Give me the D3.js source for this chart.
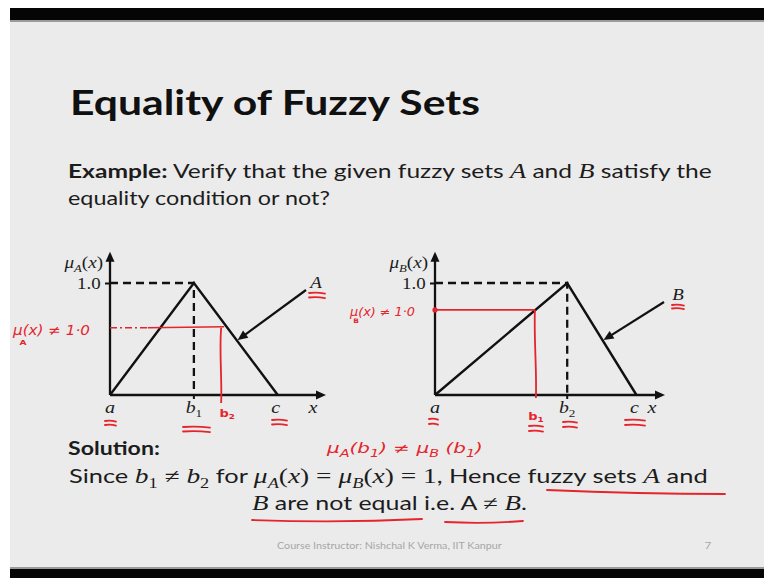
<!DOCTYPE html>
<html><head><meta charset="utf-8">
<script src="https://cdn.jsdelivr.net/npm/d3@7"></script>
<style>html,body{margin:0;padding:0;background:#fff;}svg{display:block}</style>
</head><body>
<svg id="slide" width="764" height="578"></svg>
<script>
// Triangular membership functions: breakpoints (abscissa units) and grades
const setAx = [0, 2, 4];
const setAmu = [0, 1, 0];
const setBx = [0, 3.15, 4.8];
const setBmu = [0, 1, 0];
const setALabels = ["a", "b1", "c"];
const setBLabels = ["a", "b2", "c"];
const yTickValues = [1.0];
const yTickLabels = ["1.0"];
// Extent of each abscissa arrow and of the ordinate arrow
const axisExtentA = 5.15;
const axisExtentB = 5.48;
const axisTop = 1.28;
// Red check points: [abscissa, grade] where the guide lines meet each set
const checkA = [2.65, 0.6];
const checkB = [2.38, 0.76];

const SANS = "Lato, 'Open Sans', sans-serif";
const SERIF = "'Liberation Serif', 'DejaVu Serif', serif";
const HAND = "'DejaVu Sans', sans-serif";
const INK = "#1c1c1c";
const RED = "#e5242b";
const SX = 1.18;   // the slide frame is wider than the original 4:3 page

const svg = d3.select("#slide");
const W = 764, H = 578;

// slide frame
svg.append("rect").attr("width", W).attr("height", H).attr("fill", "#fff");
svg.append("rect").attr("x", 10).attr("y", 8).attr("width", W - 10).attr("height", H - 8).attr("fill", "#ebebeb");
svg.append("rect").attr("x", 10).attr("y", 8).attr("width", W - 10).attr("height", 12).attr("fill", "#050505");
svg.append("rect").attr("x", 10).attr("y", 20).attr("width", W - 10).attr("height", 2).attr("fill", "#9a9a9a");
svg.append("rect").attr("x", 10).attr("y", 567).attr("width", W - 10).attr("height", 2).attr("fill", "#9a9a9a");
svg.append("rect").attr("x", 10).attr("y", 569).attr("width", W - 10).attr("height", 9).attr("fill", "#050505");

// mixed text runs: r regular, b bold, m math italic, u math upright, sub / isub subscripts
function runs(sel, parts, size, family) {
  let shifted = false;
  parts.forEach(([txt, kind]) => {
    const t = sel.append("tspan").text(txt);
    const isSub = kind === "sub" || kind === "isub";
    if (isSub && !shifted) { t.attr("dy", size * 0.28); shifted = true; }
    else if (!isSub && shifted) { t.attr("dy", -size * 0.28); shifted = false; }
    if (kind === "b") t.attr("font-weight", "bold");
    if (kind === "m" || kind === "u" || isSub) t.attr("font-family", family || SERIF);
    if (kind === "m" || kind === "isub") t.attr("font-style", "italic");
    if (kind === "m" || kind === "u") t.attr("font-size", size * 1.08);
    if (isSub) t.attr("font-size", size * 0.72);
  });
  return sel;
}

// place a text so that it starts at x and spans the given width
function fit(t, x, y, width) {
  t.attr("x", 0).attr("y", 0);
  const w = t.node().getComputedTextLength();
  t.attr("transform", `translate(${x},${y}) scale(${width / w},1)`);
  return t;
}
// place a text with the frame's horizontal stretch
function put(t, x, y) {
  return t.attr("x", 0).attr("y", 0).attr("transform", `translate(${x},${y}) scale(${SX},1)`);
}

// title
fit(svg.append("text").attr("font-family", SANS).attr("font-weight", "bold").attr("font-size", 35)
  .attr("fill", "#101010").text("Equality of Fuzzy Sets"), 70, 115, 410);

const body = 19;
function line(parts) {
  const t = svg.append("text").attr("font-family", SANS).attr("font-size", body).attr("fill", INK);
  return runs(t, parts, body);
}
fit(line([["Example:", "b"], [" Verify that the given fuzzy sets ", "r"], ["A", "m"], [" and ", "r"], ["B", "m"], [" satisfy the", "r"]]), 68, 178, 644);
fit(line([["equality condition or not?", "r"]]), 68, 205, 262);
fit(line([["Solution:", "b"]]), 68, 455, 92);
fit(line([["Since ", "r"], ["b", "m"], ["1", "sub"], [" ≠ ", "u"], ["b", "m"], ["2", "sub"], [" for ", "r"],
  ["μ", "m"], ["A", "isub"], ["(", "u"], ["x", "m"], [")", "u"], [" = ", "u"], ["μ", "m"], ["B", "isub"], ["(", "u"], ["x", "m"], [")", "u"],
  [" = 1", "u"], [", Hence fuzzy sets ", "r"], ["A", "m"], [" and", "r"]]), 69, 483, 639);
fit(line([["B", "m"], [" are not equal i.e. A ", "r"], ["≠ ", "u"], ["B", "m"], [".", "r"]]), 252, 510, 275);

// footer
fit(svg.append("text").attr("font-family", SANS).attr("font-size", 9.5).attr("fill", "#a6a6a6")
  .text("Course Instructor: Nishchal K Verma, IIT Kanpur"), 277, 549, 225);
put(svg.append("text").attr("text-anchor", "middle").attr("font-family", SANS).attr("font-size", 10)
  .attr("fill", "#a6a6a6").text("7"), 708, 549);

// shared ordinate scale
const y = d3.scaleLinear().domain([0, 1]).range([395, 283]);

function arrowHead(g, tip, dir, len, half, color) {
  const [dx, dy] = dir;
  const nx = -dy, ny = dx;
  const bx = tip[0] - dx * len, by = tip[1] - dy * len;
  g.append("path")
    .attr("d", `M${tip[0]},${tip[1]}L${bx + nx * half},${by + ny * half}L${bx - nx * half},${by - ny * half}Z`)
    .attr("fill", color);
}

// short handwritten double strokes under a label
function dbl(g, x1, x2, y1, gap, color) {
  for (let i = 0; i < 2; i++) {
    const yy = y1 + i * gap;
    g.append("path").attr("d", `M${x1},${yy}Q${(x1 + x2) / 2},${yy - 1} ${x2},${yy + 0.6}`)
      .attr("stroke", color).attr("stroke-width", 1.8).attr("fill", "none").attr("stroke-linecap", "round");
  }
}

function panel(opt) {
  const g = svg.append("g");
  const x = d3.scaleLinear().domain([0, opt.extent]).range(opt.range);
  const x0 = x(0), y0 = y(0);

  // axes with arrowheads
  g.append("line").attr("x1", x0).attr("y1", y0).attr("x2", x0).attr("y2", y(axisTop) + 6)
    .attr("stroke", "#111").attr("stroke-width", 2.3);
  arrowHead(g, [x0, y(axisTop)], [0, -1], 10, 4.5, "#111");
  g.append("line").attr("x1", x0).attr("y1", y0).attr("x2", x(opt.extent) - 6).attr("y2", y0)
    .attr("stroke", "#111").attr("stroke-width", 2.3);
  arrowHead(g, [x(opt.extent), y0], [1, 0], 10, 4.5, "#111");

  // tick at grade 1.0 on the ordinate
  const yAxis = d3.axisLeft(y).tickValues(yTickValues).tickSize(5).tickPadding(3)
    .tickFormat((d, i) => yTickLabels[i]);
  const ya = g.append("g").attr("transform", `translate(${x0},0)`).call(yAxis);
  ya.select(".domain").remove();
  ya.selectAll("line").attr("stroke", "#111").attr("stroke-width", 2);
  ya.selectAll("text").attr("font-family", SERIF).attr("font-size", 16).attr("fill", INK)
    .attr("dy", "0.32em").attr("transform", `scale(${SX},1)`);

  const px = opt.xs[1], py = opt.mu[1];
  // dashed guides to the peak
  g.append("path").attr("d", `M${x0},${y(py)}H${x(px)}V${y0}`)
    .attr("stroke", "#111").attr("stroke-width", 2.3).attr("fill", "none").attr("stroke-dasharray", "8,5");
  g.append("line").attr("x1", x(px)).attr("x2", x(px)).attr("y1", y0).attr("y2", y0 + 4)
    .attr("stroke", "#111").attr("stroke-width", 2);

  // membership triangle
  const tri = d3.line().x(d => x(d[0])).y(d => y(d[1]));
  g.append("path").attr("d", tri(opt.xs.map((v, i) => [v, opt.mu[i]])))
    .attr("stroke", "#111").attr("stroke-width", 2.4).attr("fill", "none");

  // ordinate label
  const yl = g.append("text").attr("text-anchor", "end").attr("font-family", SERIF).attr("font-size", 16).attr("fill", INK);
  runs(yl, [["μ", "m"], [opt.name, "isub"], ["(", "u"], ["x", "m"], [")", "u"]], 15);
  put(yl, x0 - 7, 268);

  // abscissa labels
  opt.labels.forEach((lab, i) => {
    const t = g.append("text").attr("text-anchor", "middle")
      .attr("font-family", SERIF).attr("font-size", 17).attr("fill", INK);
    if (lab.length > 1) runs(t, [[lab[0], "m"], [lab.slice(1), "sub"]], 15.5);
    else t.attr("font-style", "italic").text(lab);
    put(t, x(opt.xs[i]) + (i === 2 ? -2 : 0), 413);
  });
  put(g.append("text").attr("text-anchor", "middle").attr("font-family", SERIF).attr("font-style", "italic")
    .attr("font-size", 17).attr("fill", INK).text("x"), x(opt.extent) - 13, 413);

  // set name with a pointer arrow onto the falling edge
  const t = 0.49;
  const ex = px + (opt.xs[2] - px) * (1 - t);
  const tip = [x(ex) + 1, y(t)];
  const tail = opt.tail;
  const L = Math.hypot(tip[0] - tail[0], tip[1] - tail[1]);
  const dir = [(tip[0] - tail[0]) / L, (tip[1] - tail[1]) / L];
  g.append("line").attr("x1", tail[0]).attr("y1", tail[1]).attr("x2", tip[0] - dir[0] * 6).attr("y2", tip[1] - dir[1] * 6)
    .attr("stroke", "#111").attr("stroke-width", 2.2);
  arrowHead(g, tip, dir, 10, 4.5, "#111");
  put(g.append("text").attr("text-anchor", "middle").attr("font-family", SERIF).attr("font-style", "italic")
    .attr("font-size", 16).attr("fill", INK).text(opt.name), opt.nameAt[0], opt.nameAt[1]);

  return { g, x };
}

// handwritten "mu(x) != 1.0" note with its set letter under the mu
function gradeNote(g, x, yb, width, size, setName, subAt) {
  const n = g.append("text").attr("font-family", HAND).attr("font-style", "italic")
    .attr("font-size", size).attr("fill", RED).text("μ(x) ≠ 1·0");
  fit(n, x, yb, width);
  put(g.append("text").attr("text-anchor", "middle").attr("font-family", HAND).attr("font-weight", "bold")
    .attr("font-size", size * 0.55).attr("fill", RED).text(setName), subAt[0], subAt[1]);
}
function redSub(g, x, yb, base, sub) {
  const lb = g.append("text").attr("text-anchor", "middle").attr("font-family", HAND).attr("font-weight", "bold")
    .attr("font-size", 11).attr("fill", RED);
  lb.append("tspan").text(base);
  lb.append("tspan").attr("dy", 2).attr("font-size", 7.5).text(sub);
  put(lb, x, yb);
}

// ---- set A ----
const pA = panel({ name: "A", xs: setAx, mu: setAmu, labels: setALabels, extent: axisExtentA, range: [110, 326], tail: [306, 290], nameAt: [316, 288] });
{
  const g = pA.g, x = pA.x;
  const cy = y(checkA[1]), cx = x(checkA[0]);
  g.append("line").attr("x1", x(0)).attr("x2", x(0.9)).attr("y1", cy).attr("y2", cy)
    .attr("stroke", RED).attr("stroke-width", 1.6).attr("stroke-dasharray", "7,3,2,3");
  g.append("line").attr("x1", x(0.9)).attr("x2", cx + 3).attr("y1", cy).attr("y2", cy - 1)
    .attr("stroke", RED).attr("stroke-width", 1.6);
  g.append("path").attr("d", `M${cx},${cy}C${cx - 2},${cy + 25} ${cx + 1},${cy + 50} ${cx},${y(0) + 8}`)
    .attr("stroke", RED).attr("stroke-width", 1.8).attr("fill", "none");
  redSub(g, cx + 6, 417, "b", "2");
  gradeNote(g, 13, 335, 77, 14, "A", [23, 345]);
  dbl(g, 105, 116, 421, 4, RED);
  dbl(g, 183, 210, 427, 4.5, RED);
  dbl(g, 272, 287, 420, 4.5, RED);
  dbl(g, 309, 325, 293, 4.5, RED);
}

// ---- set B ----
const pB = panel({ name: "B", xs: setBx, mu: setBmu, labels: setBLabels, extent: axisExtentB, range: [435, 665], tail: [664, 302], nameAt: [678, 300] });
{
  const g = pB.g, x = pB.x;
  const cy = y(checkB[1]), cx = x(checkB[0]);
  g.append("line").attr("x1", x(0)).attr("x2", cx).attr("y1", cy).attr("y2", cy)
    .attr("stroke", RED).attr("stroke-width", 1.8);
  g.append("circle").attr("cx", x(0)).attr("cy", cy).attr("r", 2.6).attr("fill", RED);
  g.append("path").attr("d", `M${cx},${cy}C${cx - 1},${cy + 30} ${cx + 2},${cy + 60} ${cx + 1},${y(0) + 3}`)
    .attr("stroke", RED).attr("stroke-width", 1.8).attr("fill", "none");
  redSub(g, cx + 1, 420, "b", "1");
  gradeNote(g, 350, 316, 65, 11.5, "B", [356, 323]);
  dbl(g, 429, 438, 419, 5, RED);
  dbl(g, 529, 543, 426, 5, RED);
  dbl(g, 563, 577, 422, 5, RED);
  dbl(g, 625, 645, 420, 5, RED);
  dbl(g, 672, 684, 305, 3.5, RED);
}

// ---- handwritten notes on the solution ----
{
  const note = svg.append("text").attr("font-family", HAND).attr("font-style", "italic")
    .attr("font-size", 14).attr("fill", RED);
  runs(note, [["μ", "r"], ["A", "sub"], ["(b", "r"], ["1", "sub"], [") ≠ μ", "r"], ["B", "sub"], [" (b", "r"], ["1", "sub"], [")", "r"]], 14, HAND);
  fit(note, 327, 453, 156);
  const ul = (d) => svg.append("path").attr("d", d).attr("stroke", RED).attr("stroke-width", 1.8)
    .attr("fill", "none").attr("stroke-linecap", "round");
  ul("M547,490 Q640,494 725,494");
  ul("M252,520 Q340,523 422,519");
  ul("M445,522 Q485,524 523,521");
}
</script>
</body></html>
